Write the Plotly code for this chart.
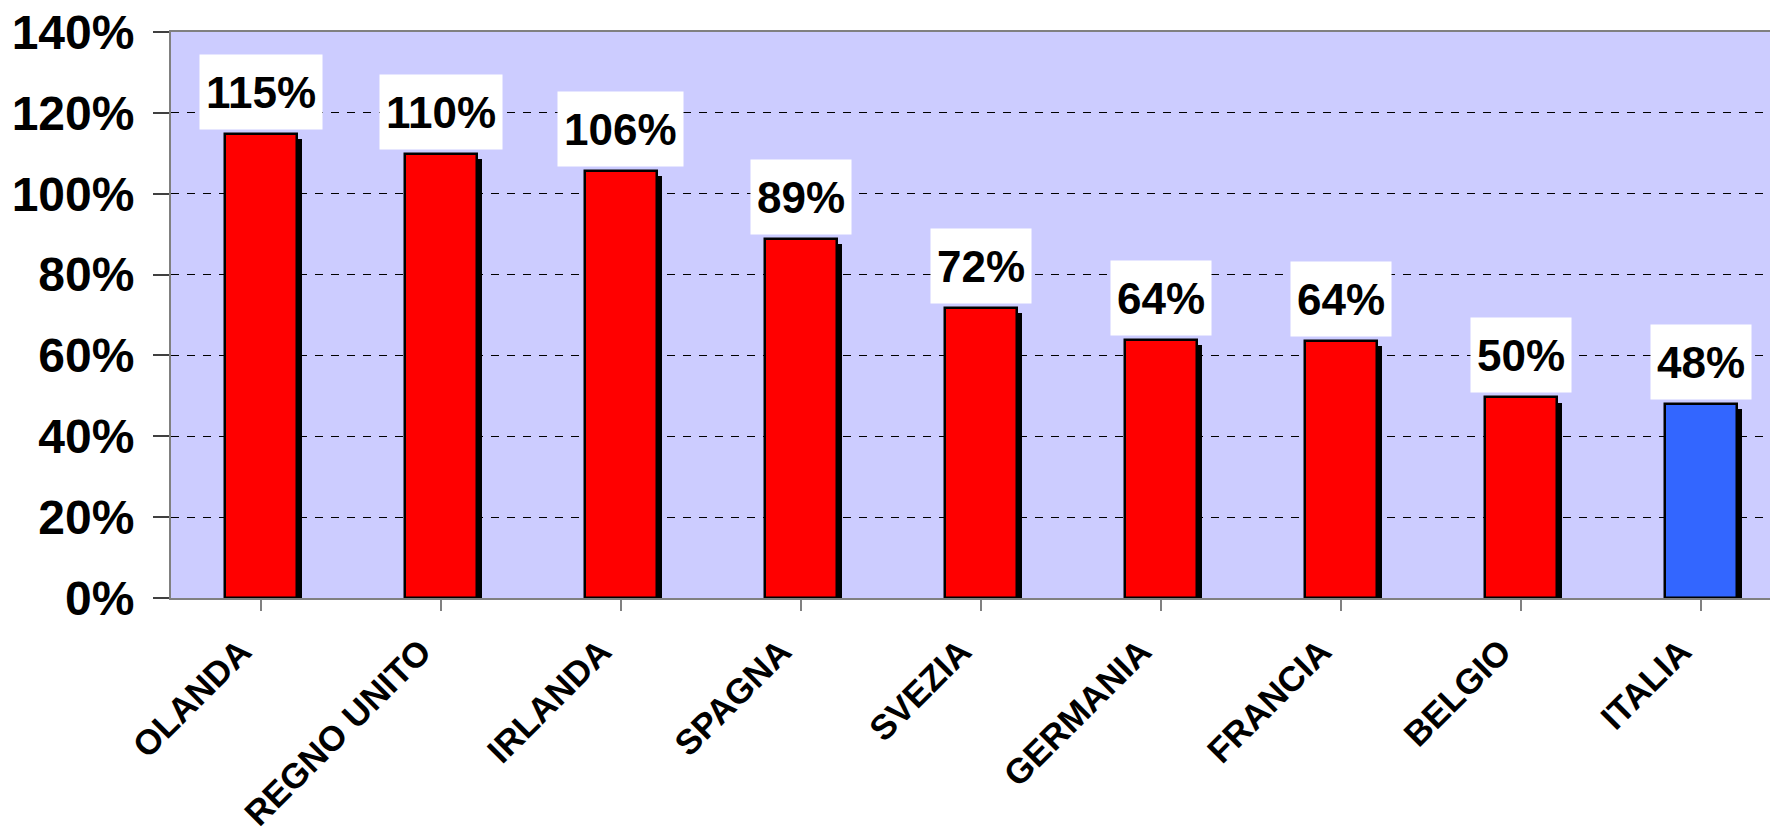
import plotly.graph_objects as go

# data
countries = ["OLANDA", "REGNO UNITO", "IRLANDA", "SPAGNA", "SVEZIA",
             "GERMANIA", "FRANCIA", "BELGIO", "ITALIA"]
values = [114.7, 109.8, 105.6, 88.9, 71.7, 63.9, 63.6, 49.6, 48.0]
bar_colors = ["#FF0000"] * 8 + ["#3366FF"]
y_ticks = [0, 20, 40, 60, 80, 100, 120, 140]
y_tick_labels = [f"{t}%" for t in y_ticks]

FONT = "Liberation Sans, Arial, sans-serif"
BAR_W = 0.4
SHADOW_DX = 0.028   # ~5px to the right
SHADOW_DY = 1.25    # ~5px down (in % units)

fig = go.Figure()

# drop shadow behind each bar
fig.add_trace(go.Bar(
    x=list(range(len(countries))),
    y=[v - SHADOW_DY for v in values],
    width=BAR_W,
    offset=-BAR_W / 2 + SHADOW_DX,
    marker=dict(color="#000000", line=dict(width=0)),
    hoverinfo="skip",
    showlegend=False,
))

# main bars
fig.add_trace(go.Bar(
    x=list(range(len(countries))),
    y=values,
    width=BAR_W,
    offset=-BAR_W / 2,
    marker=dict(color=bar_colors, line=dict(color="#000000", width=2.5)),
    showlegend=False,
))

# white value boxes above the bars
for i, v in enumerate(values):
    fig.add_annotation(
        x=i, y=v, xref="x", yref="y",
        text=f"<b>{round(v):.0f}%</b>",
        showarrow=False,
        yanchor="bottom", yshift=4,
        bgcolor="#FFFFFF", borderpad=6, height=62,
        font=dict(family=FONT, size=44, color="#000000"),
    )

# page body has an 8px margin, so the figure is 8px smaller each way
fig.update_layout(
    width=1770, height=822,
    margin=dict(l=163, r=0, t=24, b=232),
    paper_bgcolor="#FFFFFF",
    plot_bgcolor="#CCCCFF",
    barmode="overlay",
    bargap=0,
    font=dict(family=FONT, color="#000000"),
    xaxis=dict(
        range=[-0.5, 8.428],
        automargin=False,
        tickmode="array",
        tickvals=list(range(len(countries))),
        ticktext=[f"<b>{c}</b>" for c in countries],
        tickson="boundaries",
        ticks="outside", ticklen=11, tickcolor="#808080", tickwidth=1.5,
        tickangle=-45,
        tickfont=dict(family=FONT, size=35, color="#000000"),
        ticklabelstandoff=6,
        ticklabelshift=-20,
        ticklabeloverflow="allow",
        showline=True, linecolor="#808080", linewidth=2, mirror=True,
        showgrid=False, zeroline=False,
    ),
    yaxis=dict(
        range=[0, 140],
        automargin=False,
        tickmode="array",
        tickvals=y_ticks,
        ticktext=[f"<b>{t}</b>" for t in y_tick_labels],
        ticks="outside", ticklen=16, tickcolor="#404040", tickwidth=1.5,
        tickfont=dict(family=FONT, size=48, color="#000000"),
        ticklabelstandoff=9,
        ticklabeloverflow="allow",
        showline=True, linecolor="#808080", linewidth=2,
        showgrid=True, gridcolor="#000000", gridwidth=1, griddash="8px,8px",
        zeroline=False,
    ),
)

fig.write_html("out.html")
